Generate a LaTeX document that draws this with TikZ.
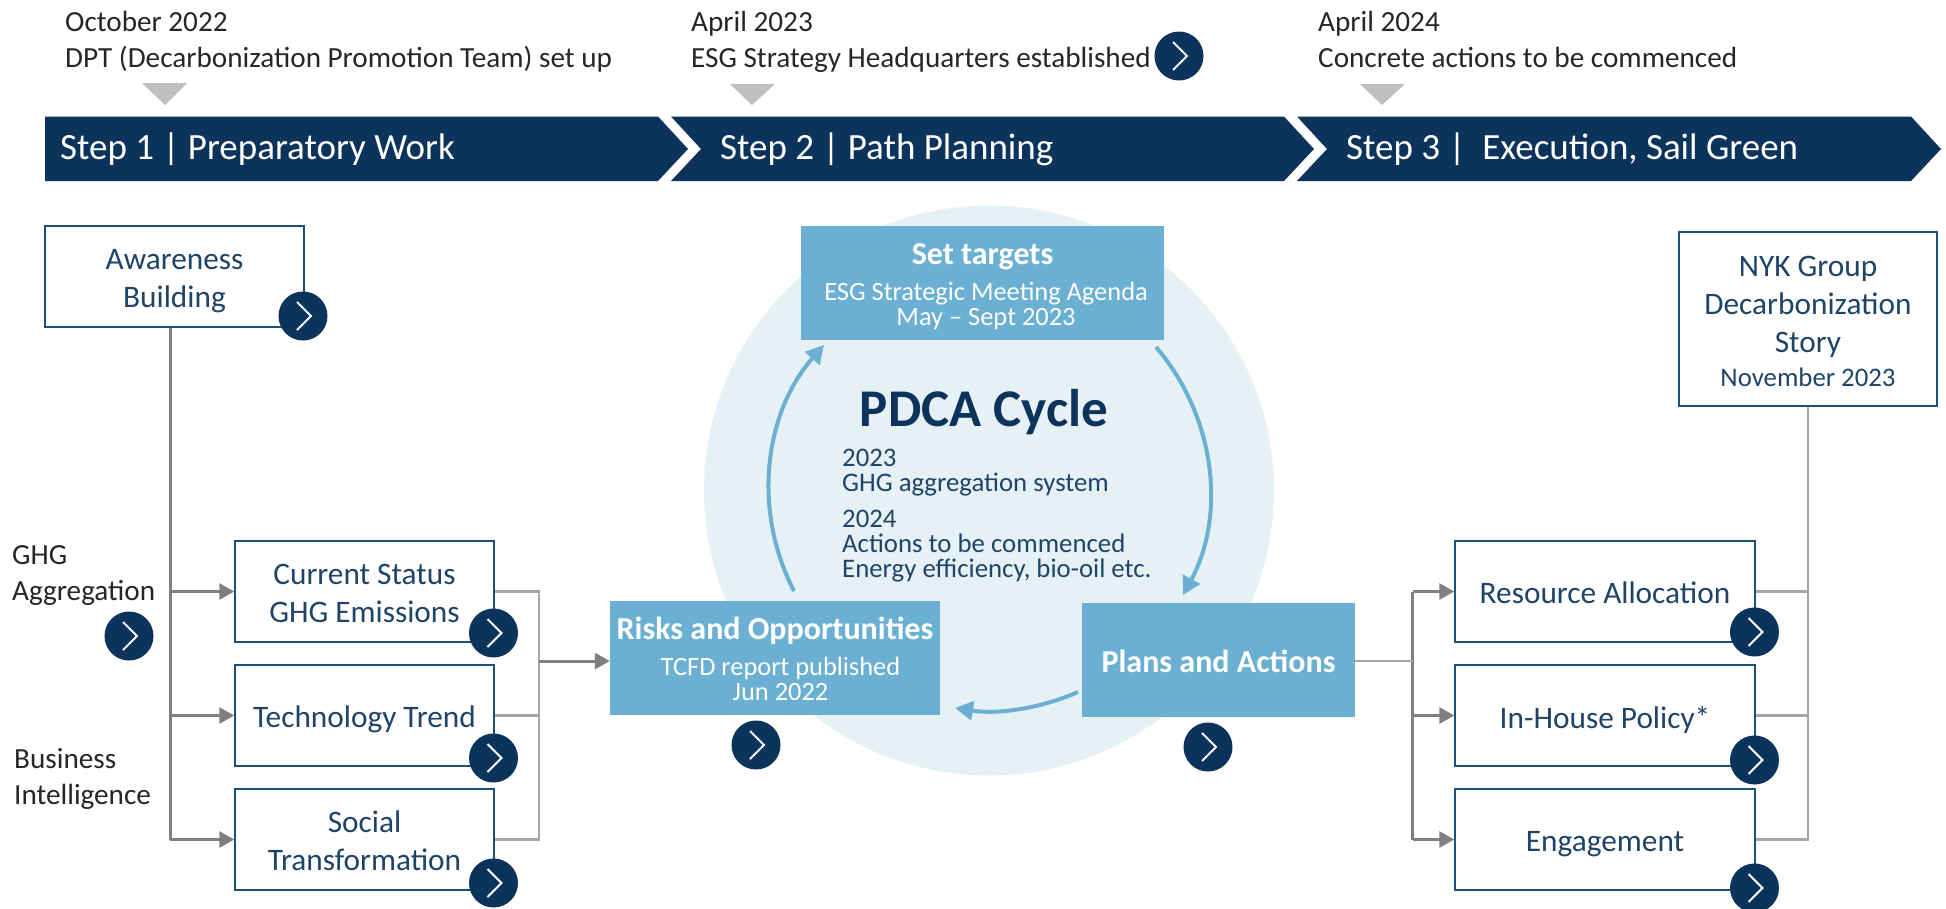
\documentclass[tikz,border=0pt]{standalone}
\usepackage{fontspec}
\setmainfont{Carlito}
\usetikzlibrary{arrows.meta}
\lineskiplimit=-60pt
\definecolor{navy}{HTML}{0B335B}
\definecolor{boxtext}{HTML}{1F4468}
\definecolor{boxline}{HTML}{1F4E79}
\definecolor{lblue}{HTML}{6BB0D2}
\definecolor{pale}{HTML}{E6F1F6}
\definecolor{gdark}{HTML}{7F7F7F}
\definecolor{glight}{HTML}{A6A6A6}
\definecolor{gtri}{HTML}{BFBFBF}
\definecolor{ink}{HTML}{262626}
\newcommand{\titlefont}{\fontsize{32}{36}\selectfont\bfseries}
\newcommand{\tp}[1]{\rule{0pt}{#1pt}}
\tikzset{
  botdepth/.style={execute at end node={\rule[-#1pt]{0pt}{#1pt}}},
  outbox/.style={draw=boxline,line width=1.5pt,fill=white,text=boxtext,align=center,inner sep=0pt,font=\fontsize{31.3}{38}\selectfont,botdepth=8},
  bluebox/.style={fill=lblue,text=white,align=center,inner sep=0pt,font=\fontsize{26.4}{25}\selectfont,botdepth=9},
  btn/.style={circle,fill=navy,minimum size=49pt,inner sep=0pt,path picture={
    \draw[white,line width=1.9pt] ([shift={(-6,-14)}]path picture bounding box.center) -- ([shift={(8,0)}]path picture bounding box.center) -- ([shift={(-6,14)}]path picture bounding box.center);}},
  note/.style={text=ink,align=left,anchor=west,inner sep=0pt,font=\fontsize{29.2}{36}\selectfont,botdepth=25},
  steptext/.style={text=white,anchor=base west,inner sep=0pt,font=\fontsize{37}{42}\selectfont},
  feed/.style={draw=gdark,line width=3pt,-{Triangle[length=15pt,width=16pt]}},
  trunk/.style={draw=gdark,line width=3pt},
  thin/.style={draw=glight,line width=2.2pt},
  cycle/.style={draw=lblue,line width=4pt,-{Triangle[length=18pt,width=19pt]}},
  stepfill/.style={fill=navy},
  tri/.style={fill=gtri}
}
\begin{document}
\begin{tikzpicture}[x=1pt,y=-1pt]
\useasboundingbox (0,0) rectangle (1946,908);
% timeline
\fill[stepfill] (45,116.5) -- (658,116.5) -- (688,149) -- (658,181) -- (45,181) -- cycle;
\fill[stepfill] (671,116.5) -- (1284,116.5) -- (1314,149) -- (1284,181) -- (671,181) -- (701,149) -- cycle;
\fill[stepfill] (1297,116.5) -- (1911,116.5) -- (1941,149) -- (1911,181) -- (1297,181) -- (1327,149) -- cycle;
\node[steptext] (s1) at (60,159) {Step 1 | Preparatory Work};
\node[steptext] (s2) at (720,159) {Step 2 | Path Planning};
\node[steptext] (s3) at (1346,159) {Step 3 |\ \ Execution, Sail Green};
\fill[tri] (142,83) -- (187,83) -- (165,105) -- cycle;
\fill[tri] (730,84) -- (775,84) -- (752,105) -- cycle;
\fill[tri] (1360,84) -- (1405,84) -- (1382,105) -- cycle;
\node[note] (n1) at (65,49) {\tp{25}October 2022\\DPT (Decarbonization Promotion Team) set up};
\node[note] (n2) at (691,49) {\tp{25}April 2023\\ESG Strategy Headquarters established};
\node[note] (n3) at (1318,49) {\tp{25}April 2024\\Concrete actions to be commenced};
\node[btn] (b0) at (1179,56) {};
% central disc
\fill[pale] (989,490.5) circle (285);
% left column
\node[outbox,minimum width=259pt,minimum height=101pt] (aware) at (174.5,276.5) {\tp{31}Awareness\\Building};
\node[outbox,minimum width=259pt,minimum height=101pt] (cur) at (364.5,591.5) {\tp{32}Current Status\\GHG Emissions};
\node[outbox,minimum width=259pt,minimum height=101pt] (tech) at (364.5,715.5) {\tp{32}Technology Trend};
\node[outbox,minimum width=259pt,minimum height=101pt] (soc) at (364.5,839.5) {\tp{32}Social\\Transformation};
\coordinate (t1) at (170,591.5);
\coordinate (t2) at (170,715.5);
\coordinate (t3) at (170,839.5);
\draw[trunk] (aware.south -| t1) -- (t3);
\draw[feed] (t1) -- (cur.west);
\draw[feed] (t2) -- (tech.west);
\draw[feed] (t3) -- (soc.west);
\coordinate (j1) at (539,591.5);
\coordinate (j2) at (539,715.5);
\coordinate (j3) at (539,839.5);
\coordinate (j4) at (539,661);
\draw[thin] (cur.east) -- (j1) -- (j3) -- (soc.east);
\draw[thin] (tech.east) -- (j2);
% right column
\node[outbox,minimum width=300pt,minimum height=101pt] (res) at (1605,591.5) {\tp{32}Resource Allocation};
\node[outbox,minimum width=300pt,minimum height=101pt] (pol) at (1605,715.5) {\tp{33}In-House Policy*};
\node[outbox,minimum width=300pt,minimum height=101pt] (eng) at (1605,839.5) {\tp{32}Engagement};
\node[outbox,botdepth=7,minimum width=258pt,minimum height=174pt] (nyk) at (1808,319) {\tp{33}NYK Group\\Decarbonization\\Story\\[-4pt]{\fontsize{26.8}{30}\selectfont November 2023}};
\coordinate (r1) at (1412.5,591.5);
\coordinate (r2) at (1412.5,715.5);
\coordinate (r3) at (1412.5,839.5);
\coordinate (r0) at (1412.5,661);
\draw[trunk] (r1) -- (r3);
\draw[feed] (r1) -- (res.west);
\draw[feed] (r2) -- (pol.west);
\draw[feed] (r3) -- (eng.west);
\coordinate (k1) at (1808,591.5);
\coordinate (k2) at (1808,715.5);
\coordinate (k3) at (1808,839.5);
\draw[thin] (nyk.south) -- (k3) -- (eng.east);
\draw[thin] (res.east) -- (k1);
\draw[thin] (pol.east) -- (k2);
% PDCA boxes
\node[bluebox,minimum width=363pt,minimum height=114pt] (set) at (982.5,283) {\tp{32}{\titlefont Set targets}\\[11pt]\hspace*{7pt}ESG Strategic Meeting Agenda\\\hspace*{7pt}May – Sept 2023};
\node[bluebox,minimum width=330pt,minimum height=114pt] (risk) at (775,658) {\tp{32}{\titlefont Risks and Opportunities}\\[11pt]\hspace*{11pt}TCFD report published\\\hspace*{11pt}Jun 2022};
\node[bluebox,botdepth=8,minimum width=273pt,minimum height=114pt] (plan) at (1218.5,660) {\tp{34}\titlefont Plans and Actions};
\draw[thin,line width=1.6pt] (plan.east |- j4) -- (r0);
\draw[feed] (j4) -- (risk.west |- j4);
% cycle arrows
\coordinate (c1a) at (794,591);
\coordinate (c1b) at (824,345);
\coordinate (c2a) at (1156,347);
\coordinate (c2b) at (1183,595);
\coordinate (c3a) at (1078,692);
\coordinate (c3b) at (955,708);
\draw[cycle] (c1a) .. controls (752.2,510.3) and (764,413.3) .. (c1b);
\draw[cycle] (c2a) .. controls (1215.4,416.3) and (1226.4,514.7) .. (c2b);
\draw[cycle] (c3a) .. controls (1039.4,709) and (996.7,714.5) .. (c3b);
% centre text
\node[text=navy,anchor=base,inner sep=0pt,font=\fontsize{53}{60}\selectfont\bfseries] (pdca) at (984,426) {PDCA Cycle};
\node[text=boxtext,align=left,anchor=west,inner sep=0pt,font=\fontsize{26.8}{25}\selectfont,botdepth=60] (yrs) at (842,522) {\tp{60}2023\\GHG aggregation system\\[11pt]2024\\Actions to be commenced\\Energy efficiency, bio-oil etc.};
% side notes
\node[note] (ghg) at (12,582) {\tp{25}GHG\\Aggregation};
\node[note] (biz) at (14,786) {\tp{25}Business\\Intelligence};
% buttons
\node[btn] (b1) at (303,316) {};
\node[btn] (b2) at (493.5,633) {};
\node[btn] (b3) at (493.5,758) {};
\node[btn] (b4) at (493.5,883) {};
\node[btn] (b5) at (129,636) {};
\node[btn] (b6) at (756,745) {};
\node[btn] (b7) at (1208,747) {};
\node[btn] (b8) at (1754.5,632) {};
\node[btn] (b9) at (1754.5,760) {};
\node[btn] (b10) at (1754.5,888) {};
\end{tikzpicture}
\end{document}
